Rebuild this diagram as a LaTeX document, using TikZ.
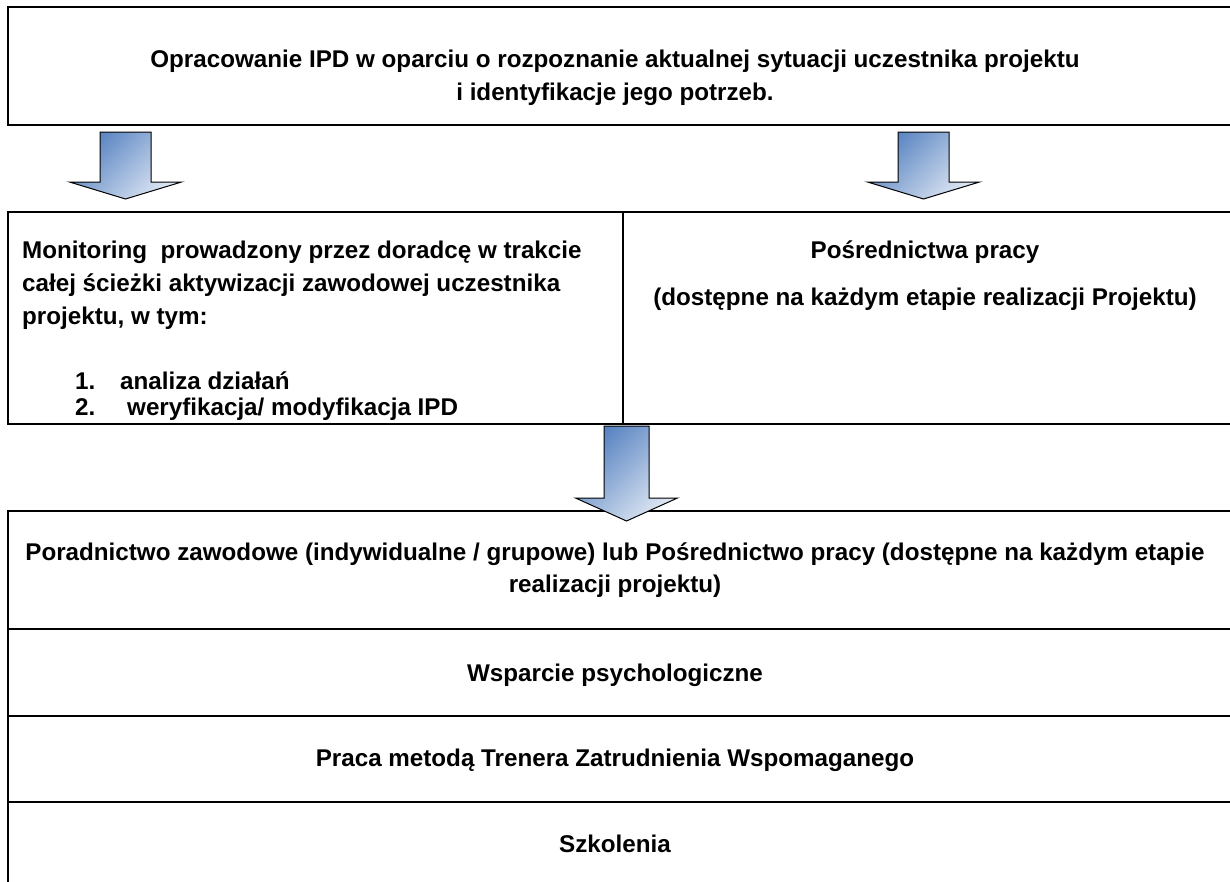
\documentclass[tikz,border=0pt]{standalone}
\usepackage{fontspec}
\setmainfont{Liberation Sans}
\usetikzlibrary{positioning}

\definecolor{arrowdark}{RGB}{84,128,192}
\definecolor{arrowlight}{RGB}{222,231,243}

% block arrow: centre x, top, wing line, tip, half shaft, half head
\newcommand{\blockarrow}[6]{%
  \draw[fatarrow] (#1-#5,#2) -- (#1+#5,#2) -- (#1+#5,#3) -- (#1+#6,#3)
    -- (#1,#4) -- (#1-#6,#3) -- (#1-#5,#3) -- cycle;}

\begin{document}
\begin{tikzpicture}[x=1pt,y=-1pt,
  txt/.style={font=\fontsize{24.2}{28}\selectfont\bfseries,inner sep=0pt,anchor=base}]
\tikzstyle{box} = [rectangle, draw, line width=2pt, anchor=north west,
    inner sep=0pt, outer sep=0pt, minimum width=1232pt]
\tikzstyle{fatarrow} = [draw, line width=1pt, line join=miter,
    top color=arrowdark, bottom color=arrowlight, shading angle=45]

\useasboundingbox (0,0) rectangle (1230,881);
\clip (0,0) rectangle (1230,881);

% boxes
\node[box, minimum height=118pt]			(ipd)		at (8,7)	{};
\node[box, minimum width=615pt, minimum height=212pt]	(monitor)	at (8,212)	{};
\node[box, minimum width=617pt, minimum height=212pt, right=0pt of monitor]	(posred)	{};
\node[box, minimum height=118pt]			(porad)		at (8,511)	{};
\node[box, minimum height=87pt, below=0pt of porad]	(psych)		{};
\node[box, minimum height=86pt, below=0pt of psych]	(trener)	{};
\node[box, minimum height=90pt, below=0pt of trener]	(szkol)		{};

% arrows
\blockarrow{125.5}{132}{182}{199}{25.5}{56}
\blockarrow{923.5}{132}{182}{199}{25.5}{56}
\blockarrow{626.5}{426}{498}{521}{22.5}{51}

% texts
\node[txt] (ipd1) at (615,67) {Opracowanie IPD w oparciu o rozpoznanie aktualnej sytuacji uczestnika projektu};
\node[txt] (ipd2) at (615,100) {i identyfikacje jego potrzeb.};

\node[txt, anchor=base west] (mon1) at (22,258) {Monitoring\ \ prowadzony przez doradcę w trakcie};
\node[txt, anchor=base west] (mon2) at (22,291) {całej ścieżki aktywizacji zawodowej uczestnika};
\node[txt, anchor=base west] (mon3) at (22,324) {projektu, w tym:};
\node[txt, anchor=base west] (num1) at (75,389) {1.};
\node[txt, anchor=base west] (item1) at (120,389) {analiza działań};
\node[txt, anchor=base west] (num2) at (75,415) {2.};
\node[txt, anchor=base west] (item2) at (127,415) {weryfikacja/ modyfikacja IPD};

\node[txt] (pos1) at (925,258) {Pośrednictwa pracy};
\node[txt] (pos2) at (925,305) {(dostępne na każdym etapie realizacji Projektu)};

\node[txt] (por1) at (615,560) {Poradnictwo zawodowe (indywidualne / grupowe) lub Pośrednictwo pracy (dostępne na każdym etapie};
\node[txt] (por2) at (615,592) {realizacji projektu)};
\node[txt] (psy)  at (615,681) {Wsparcie psychologiczne};
\node[txt] (tre)  at (615,766) {Praca metodą Trenera Zatrudnienia Wspomaganego};
\node[txt] (szk)  at (615,852) {Szkolenia};

\end{tikzpicture}
\end{document}
